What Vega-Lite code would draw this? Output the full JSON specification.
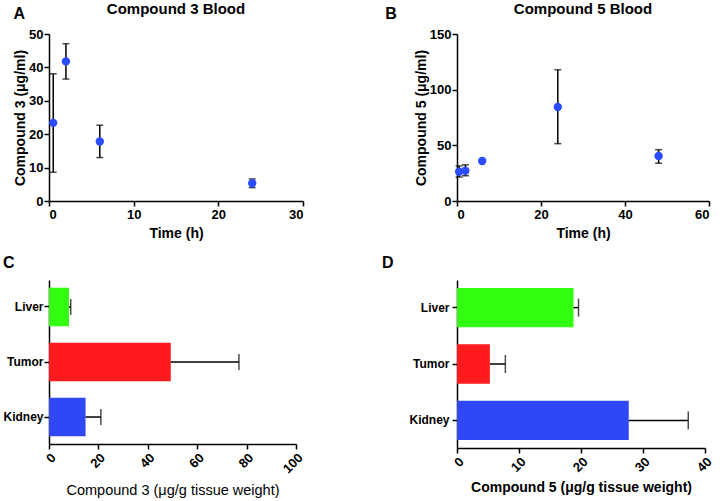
{
  "$schema": "https://vega.github.io/schema/vega-lite/v6.json",
  "background": "white",
  "padding": {"left": 2, "top": 2, "right": 2, "bottom": 2},
  "align": "none",
  "config": {
    "font": "Liberation Sans",
    "view": {"stroke": null},
    "axis": {
      "grid": false,
      "domainColor": "black",
      "domainWidth": 1.5,
      "tickColor": "black",
      "tickWidth": 1.5,
      "tickSize": 5,
      "labelFont": "Liberation Sans",
      "labelFontSize": 13,
      "labelFontWeight": "bold",
      "labelColor": "black",
      "labelPadding": 2,
      "titleFont": "Liberation Sans",
      "titleFontSize": 14,
      "titleFontWeight": "bold",
      "titleColor": "black",
      "titlePadding": 5
    },
    "axisY": {"titlePadding": 1, "labelPadding": 1},
    "title": {"font": "Liberation Sans", "fontSize": 15, "fontWeight": "bold", "color": "black"},
    "concat": {"spacing": 0}
  },
  "datasets": {
    "c3blood": [
      {"time": 0.5, "conc": 23.4, "lo": 8.6, "hi": 38.1},
      {"time": 2, "conc": 41.8, "lo": 36.5, "hi": 47.1},
      {"time": 6, "conc": 17.8, "lo": 13.0, "hi": 22.7},
      {"time": 24, "conc": 5.3, "lo": 4.0, "hi": 6.6}
    ],
    "c5blood": [
      {"time": 0.5, "conc": 26.3, "lo": 21.5, "hi": 31.5},
      {"time": 2, "conc": 27.2, "lo": 22.7, "hi": 32.5},
      {"time": 6, "conc": 35.9, "lo": 35.4, "hi": 36.4},
      {"time": 24, "conc": 84.4, "lo": 51.5, "hi": 117.9},
      {"time": 48, "conc": 40.4, "lo": 33.9, "hi": 46.1}
    ],
    "c3tissue": [
      {"tissue": "Liver", "value": 8.1, "hi": 8.8},
      {"tissue": "Tumor", "value": 49.3, "hi": 76.9},
      {"tissue": "Kidney", "value": 14.8, "hi": 21.0}
    ],
    "c5tissue": [
      {"tissue": "Liver", "value": 18.8, "hi": 19.6},
      {"tissue": "Tumor", "value": 5.3, "hi": 7.8},
      {"tissue": "Kidney", "value": 27.7, "hi": 37.3}
    ]
  },
  "vconcat": [
    {
      "hconcat": [
        {
          "title": {"text": "A", "anchor": "start", "fontSize": 16, "offset": -20},
          "vconcat": [
            {
              "title": {"text": "Compound 3 Blood", "frame": "group", "offset": 11},
              "width": 254,
              "height": 167,
              "data": {"name": "c3blood"},
              "layer": [
                {
                  "mark": {"type": "errorbar", "ticks": {"size": 7, "thickness": 1.5, "color": "black"}, "rule": {"strokeWidth": 1.5, "color": "black"}},
                  "encoding": {
                    "x": {"field": "time", "type": "quantitative", "scale": {"domain": [0, 30]}, "axis": {"values": [0, 10, 20, 30], "title": "Time (h)"}},
                    "y": {"field": "lo", "type": "quantitative", "scale": {"domain": [0, 50]}, "axis": {"values": [0, 10, 20, 30, 40, 50], "title": "Compound 3 (μg/ml)"}},
                    "y2": {"field": "hi"}
                  }
                },
                {
                  "mark": {"type": "circle", "size": 70, "color": "#2b4cff", "opacity": 1},
                  "encoding": {
                    "x": {"field": "time", "type": "quantitative", "scale": {"domain": [0, 30]}, "axis": {"values": [0, 10, 20, 30], "title": "Time (h)"}},
                    "y": {"field": "conc", "type": "quantitative", "scale": {"domain": [0, 50]}, "axis": {"values": [0, 10, 20, 30, 40, 50], "title": "Compound 3 (μg/ml)"}}
                  }
                }
              ]
            }
          ]
        },
        {
          "title": {"text": "B", "anchor": "start", "fontSize": 16, "offset": -20, "dx": -29},
          "vconcat": [
            {
              "title": {"text": "Compound 5 Blood", "frame": "group", "offset": 11},
              "width": 252,
              "height": 167,
              "data": {"name": "c5blood"},
              "layer": [
                {
                  "mark": {"type": "errorbar", "ticks": {"size": 7, "thickness": 1.5, "color": "black"}, "rule": {"strokeWidth": 1.5, "color": "black"}},
                  "encoding": {
                    "x": {"field": "time", "type": "quantitative", "scale": {"domain": [0, 60]}, "axis": {"values": [0, 20, 40, 60], "title": "Time (h)"}},
                    "y": {"field": "lo", "type": "quantitative", "scale": {"domain": [0, 150]}, "axis": {"values": [0, 50, 100, 150], "title": "Compound 5 (μg/ml)"}},
                    "y2": {"field": "hi"}
                  }
                },
                {
                  "mark": {"type": "circle", "size": 70, "color": "#2b4cff", "opacity": 1},
                  "encoding": {
                    "x": {"field": "time", "type": "quantitative", "scale": {"domain": [0, 60]}, "axis": {"values": [0, 20, 40, 60], "title": "Time (h)"}},
                    "y": {"field": "conc", "type": "quantitative", "scale": {"domain": [0, 150]}, "axis": {"values": [0, 50, 100, 150], "title": "Compound 5 (μg/ml)"}}
                  }
                }
              ]
            }
          ]
        }
      ],
      "spacing": 81
    },
    {
      "hconcat": [
        {
          "title": {"text": "C", "anchor": "start", "fontSize": 16, "offset": 9},
          "width": 247,
          "height": 164,
          "data": {"name": "c3tissue"},
          "encoding": {
            "y": {"field": "tissue", "type": "nominal", "sort": ["Liver", "Tumor", "Kidney"], "scale": {"paddingInner": 0.3, "paddingOuter": 0.14}, "axis": {"title": null, "labelFontSize": 12, "labelPadding": 1}}
          },
          "layer": [
            {
              "mark": {"type": "bar"},
              "encoding": {
                "x": {"field": "value", "type": "quantitative", "scale": {"domain": [0, 100]}, "axis": {"values": [0, 20, 40, 60, 80, 100], "labelAngle": -45, "title": "Compound 3 (μg/g tissue weight)", "titleFontWeight": "normal", "titleFontSize": 14.5, "titlePadding": 8}},
                "color": {"field": "tissue", "type": "nominal", "scale": {"domain": ["Liver", "Tumor", "Kidney"], "range": ["#33ff11", "#ff1a1f", "#2f47f5"]}, "legend": null}
              }
            },
            {
              "mark": {"type": "rule", "color": "black", "strokeWidth": 1.5},
              "encoding": {"x": {"field": "value", "type": "quantitative"}, "x2": {"field": "hi"}}
            },
            {
              "mark": {"type": "tick", "color": "black", "thickness": 1.5, "size": 16},
              "encoding": {"x": {"field": "hi", "type": "quantitative"}}
            }
          ]
        },
        {
          "title": {"text": "D", "anchor": "start", "fontSize": 16, "offset": 9, "dx": -27},
          "width": 248,
          "height": 168,
          "data": {"name": "c5tissue"},
          "encoding": {
            "y": {"field": "tissue", "type": "nominal", "sort": ["Liver", "Tumor", "Kidney"], "scale": {"paddingInner": 0.3, "paddingOuter": 0.14}, "axis": {"title": null, "labelFontSize": 12, "labelPadding": 3}}
          },
          "layer": [
            {
              "mark": {"type": "bar"},
              "encoding": {
                "x": {"field": "value", "type": "quantitative", "scale": {"domain": [0, 40]}, "axis": {"values": [0, 10, 20, 30, 40], "labelAngle": -45, "title": "Compound 5 (μg/g tissue weight)", "titleFontSize": 14, "titlePadding": 6}},
                "color": {"field": "tissue", "type": "nominal", "scale": {"domain": ["Liver", "Tumor", "Kidney"], "range": ["#33ff11", "#ff1a1f", "#2f47f5"]}, "legend": null}
              }
            },
            {
              "mark": {"type": "rule", "color": "black", "strokeWidth": 1.5},
              "encoding": {"x": {"field": "value", "type": "quantitative"}, "x2": {"field": "hi"}}
            },
            {
              "mark": {"type": "tick", "color": "black", "thickness": 1.5, "size": 18},
              "encoding": {"x": {"field": "hi", "type": "quantitative"}}
            }
          ]
        }
      ],
      "spacing": 75
    }
  ],
  "spacing": 15
}
